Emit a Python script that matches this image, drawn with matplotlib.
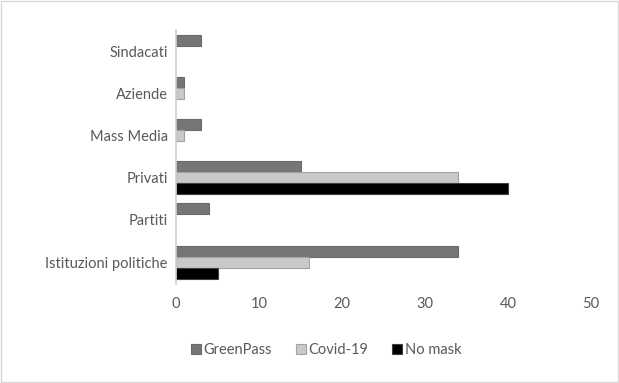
import matplotlib.pyplot as plt
import numpy as np
from matplotlib.patches import Rectangle

categories = ['Istituzioni politiche', 'Partiti', 'Privati', 'Mass Media', 'Aziende', 'Sindacati']
greenpass = [34, 4, 15, 3, 1, 3]
covid19 = [16, 0, 34, 1, 1, 0]
nomask = [5, 0, 40, 0, 0, 0]
series_names = ['GreenPass', 'Covid-19', 'No mask']

plt.rcParams['font.family'] = ['Lato', 'DejaVu Sans']
txt = '#595959'

fig = plt.figure(figsize=(6.19, 3.83), dpi=100)
ax = fig.add_axes([176/619, 1-284/383, (591-176)/619, (284-30)/383])

y = np.arange(len(categories))
h = 0.26
styles = [('#767676', '#6a6a6a'), ('#c9c9c9', '#a3a3a3'), ('#000000', '#404040')]
for k, (vals, name) in enumerate(zip([greenpass, covid19, nomask], series_names)):
    fc, ec = styles[k]
    vals = np.array(vals, dtype=float)
    keep = vals > 0
    ax.barh(y[keep] + (1 - k) * h, vals[keep], height=h, color=fc, edgecolor=ec,
            linewidth=0.8, label=name)

ax.set_xlim(0, 50)
ax.set_ylim(-0.52, 5.5)
ax.set_xticks(range(0, 51, 10))
ax.set_yticks(y)
ax.set_yticklabels(categories)
for s in ['top', 'right', 'bottom']:
    ax.spines[s].set_visible(False)
ax.spines['left'].set_color('#d0d0d0')
ax.spines['left'].set_linewidth(1.2)
ax.tick_params(length=0, labelsize=10.5, colors=txt, pad=6)
ax.tick_params(axis='x', pad=9)

leg = fig.legend(loc='center', bbox_to_anchor=(326/619, 1-350/383), ncol=3, frameon=False,
                 fontsize=10.5, handlelength=0.7, handleheight=0.7, handletextpad=0.2, columnspacing=1.6)
for t in leg.get_texts():
    t.set_color(txt)

fig.patches.append(Rectangle((0.002, 0.003), 0.996, 0.994, transform=fig.transFigure,
                             fill=False, edgecolor='#d9d9d9', linewidth=1))

fig.savefig('out.png', dpi=100)
